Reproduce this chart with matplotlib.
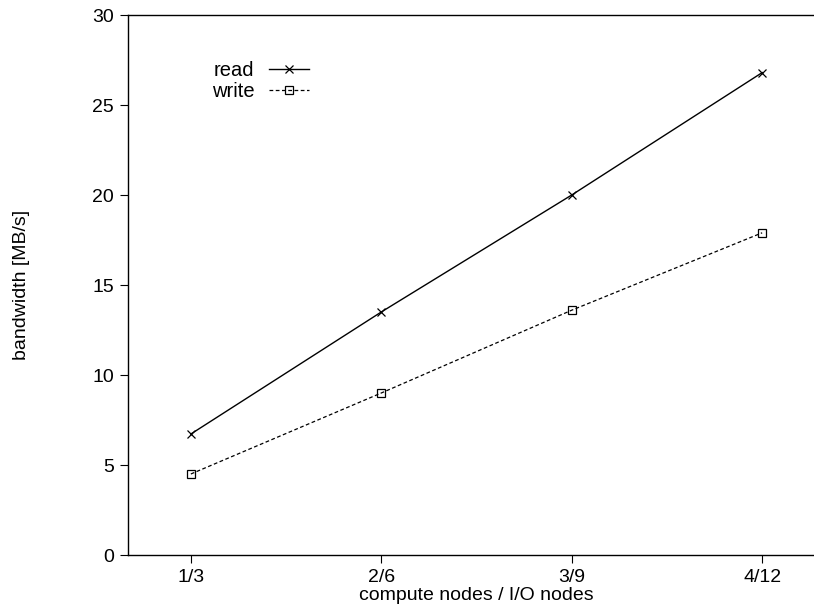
import matplotlib
matplotlib.use('Agg')
import matplotlib.pyplot as plt

plt.rcParams['font.family'] = ['Liberation Sans', 'DejaVu Sans']

etiquetas = ['1/3', '2/6', '3/9', '4/12']
leitura = [6.72, 13.5, 20.0, 26.8]
escrita = [4.5, 9.0, 13.6, 17.9]

fig = plt.figure(figsize=(8.14, 6.14), dpi=100)
# eixo vai além da borda direita, como no original
ax = fig.add_axes([128 / 814, (614 - 555) / 614, (825 - 128) / 814, 540 / 614])

pos = list(range(1, len(etiquetas) + 1))
ax.plot(pos, leitura, color='black', linewidth=1.0, marker='x', markersize=6,
        markeredgewidth=0.9, label='read')
ax.plot(pos, escrita, color='black', linewidth=0.9, linestyle=(0, (3, 2)), marker='s',
        markersize=5.5, markerfacecolor='none', markeredgewidth=0.9, label='write')

ax.set_xlim(0.67, 4.33)
ax.set_ylim(0, 30)
ax.set_xticks(pos)
ax.set_xticklabels(etiquetas)
ax.set_yticks(range(0, 31, 5))
ax.tick_params(labelsize=14, direction='out', length=6, width=0.8,
               top=False, right=False, pad=4)
ax.spines['right'].set_visible(False)
for s in ax.spines.values():
    s.set_linewidth(1.0)

ax.set_xlabel('compute nodes / I/O nodes', fontsize=14, labelpad=1)
ax.set_ylabel('bandwidth [MB/s]', fontsize=14, labelpad=45)

ax.legend(loc='upper left', bbox_to_anchor=(0.094, 0.949), frameon=False, markerfirst=False,
          fontsize=14.5, handlelength=1.95, handletextpad=0.75, labelspacing=0.12)
for t in ax.get_legend().get_texts():
    t.set_ha('right')

fig.savefig('out.png', dpi=100)
